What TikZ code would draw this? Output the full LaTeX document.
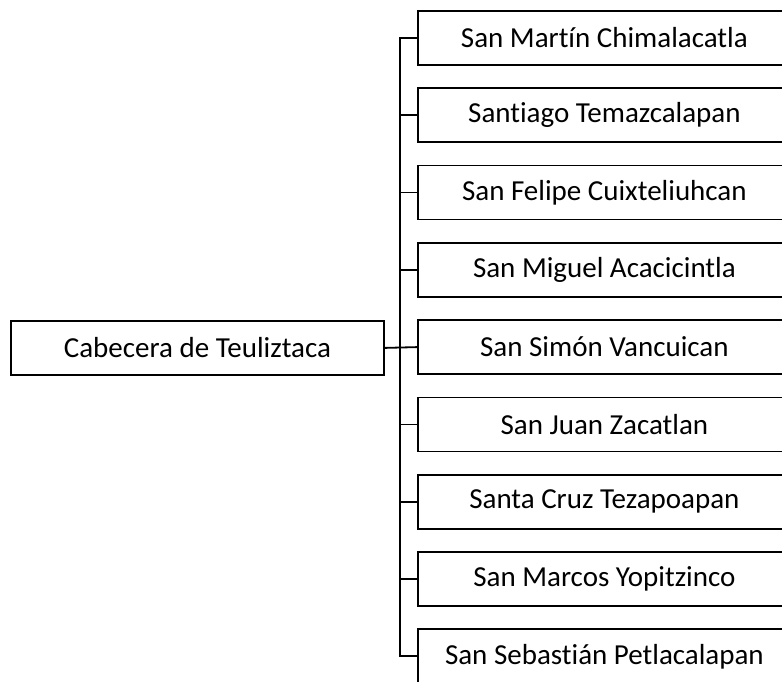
\documentclass[tikz,border=0pt]{standalone}
\usepackage{fontspec}
\setmainfont[RawFeature={-liga;-clig;-calt;-dlig}]{Carlito}
\begin{document}
\begin{tikzpicture}[x=1pt,y=-1pt,
  box/.style={draw=black,line width=1.8pt,rectangle,inner sep=0pt,
    minimum height=54pt,font=\fontsize{29}{34}\selectfont},
  rbox/.style={box,minimum width=373pt,anchor=north west},
  conn/.style={draw=black,line width=1.8pt}]
\useasboundingbox (0,0) rectangle (782,681);
\clip (0,0) rectangle (782,681);
\node[box,minimum width=373pt,anchor=north west] (head) at (10,320) {Cabecera de Teuliztaca};
\foreach \i/\t in {1/San Martín Chimalacatla,2/Santiago Temazcalapan,3/San Felipe Cuixteliuhcan,4/San Miguel Acacicintla,5/San Simón Vancuican,6/San Juan Zacatlan,7/Santa Cruz Tezapoapan,8/San Marcos Yopitzinco,9/San Sebastián Petlacalapan}{
  \node[rbox] (b\i) at (417,{10+77.3*(\i-1)}) {\t};
}
\coordinate (tr) at (400,0);
\draw[conn] (b1.west) -- (b1.west -| tr) -- (b9.west -| tr) -- (b9.west);
\foreach \i in {2,3,4,6,7,8}{
  \draw[conn] (b\i.west) -- (b\i.west -| tr);
}
\draw[conn] (head.east) -- (b5.west);
\end{tikzpicture}
\end{document}
